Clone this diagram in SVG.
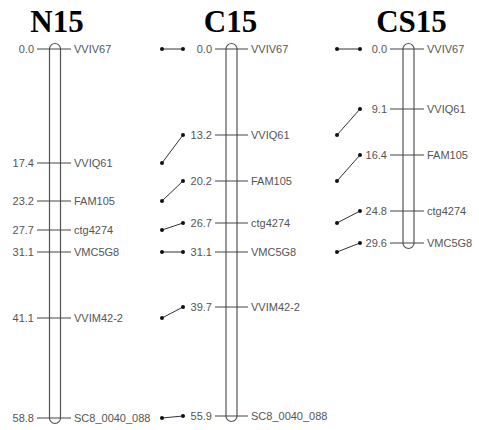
<svg xmlns="http://www.w3.org/2000/svg" width="479" height="430" viewBox="0 0 479 430">
<style>
.title{font-family:"Liberation Serif",serif;font-weight:bold;font-size:31px;fill:#000;text-anchor:middle}
.pos{font-family:"Liberation Sans",Arial,sans-serif;font-size:11px;fill:#555;text-anchor:end}
.name{font-family:"Liberation Sans",Arial,sans-serif;font-size:11px;fill:#555}
.bar{fill:none;stroke:#555;stroke-width:1.2}
.tick{stroke:#444;stroke-width:1}
.conn{stroke:#333;stroke-width:1;fill:none}
.dot{fill:#111}
</style>
<rect width="479" height="430" fill="#fff"/>
<g id="N15">
<text class="title" x="57" y="32">N15</text>
<rect class="bar" x="49.5" y="43.5" width="11" height="380" rx="5.5"/>
<g class="tick">
<line x1="37" y1="49" x2="71" y2="49"/>
<line x1="37" y1="163" x2="71" y2="163"/>
<line x1="37" y1="201" x2="71" y2="201"/>
<line x1="37" y1="230" x2="71" y2="230"/>
<line x1="37" y1="252" x2="71" y2="252"/>
<line x1="37" y1="318" x2="71" y2="318"/>
<line x1="37" y1="418" x2="71" y2="418"/>
</g>
<text class="pos" x="34" y="53">0.0</text>
<text class="pos" x="34" y="167">17.4</text>
<text class="pos" x="34" y="205">23.2</text>
<text class="pos" x="34" y="234">27.7</text>
<text class="pos" x="34" y="256">31.1</text>
<text class="pos" x="34" y="322">41.1</text>
<text class="pos" x="34" y="422">58.8</text>
<text class="name" x="74" y="53">VVIV67</text>
<text class="name" x="74" y="167">VVIQ61</text>
<text class="name" x="74" y="205">FAM105</text>
<text class="name" x="74" y="234">ctg4274</text>
<text class="name" x="74" y="256">VMC5G8</text>
<text class="name" x="74" y="322">VVIM42-2</text>
<text class="name" x="74" y="422">SC8_0040_088</text>
</g>
<g id="C15">
<text class="title" x="230.5" y="32">C15</text>
<rect class="bar" x="226" y="43.5" width="11" height="378" rx="5.5"/>
<g class="tick">
<line x1="215" y1="49" x2="248" y2="49"/>
<line x1="215" y1="135" x2="248" y2="135"/>
<line x1="215" y1="181" x2="248" y2="181"/>
<line x1="215" y1="223" x2="248" y2="223"/>
<line x1="215" y1="252" x2="248" y2="252"/>
<line x1="215" y1="307" x2="248" y2="307"/>
<line x1="215" y1="416" x2="248" y2="416"/>
</g>
<text class="pos" x="212" y="53">0.0</text>
<text class="pos" x="212" y="139">13.2</text>
<text class="pos" x="212" y="185">20.2</text>
<text class="pos" x="212" y="227">26.7</text>
<text class="pos" x="212" y="256">31.1</text>
<text class="pos" x="212" y="311">39.7</text>
<text class="pos" x="212" y="420">55.9</text>
<text class="name" x="251" y="53">VVIV67</text>
<text class="name" x="251" y="139">VVIQ61</text>
<text class="name" x="251" y="185">FAM105</text>
<text class="name" x="251" y="227">ctg4274</text>
<text class="name" x="251" y="256">VMC5G8</text>
<text class="name" x="251" y="311">VVIM42-2</text>
<text class="name" x="251" y="420">SC8_0040_088</text>
</g>
<g id="CS15">
<text class="title" x="411.5" y="32">CS15</text>
<rect class="bar" x="403" y="43.5" width="11" height="205" rx="5.5"/>
<g class="tick">
<line x1="390" y1="49" x2="424" y2="49"/>
<line x1="390" y1="109" x2="424" y2="109"/>
<line x1="390" y1="155" x2="424" y2="155"/>
<line x1="390" y1="211" x2="424" y2="211"/>
<line x1="390" y1="243" x2="424" y2="243"/>
</g>
<text class="pos" x="387" y="53">0.0</text>
<text class="pos" x="387" y="113">9.1</text>
<text class="pos" x="387" y="159">16.4</text>
<text class="pos" x="387" y="215">24.8</text>
<text class="pos" x="387" y="247">29.6</text>
<text class="name" x="427" y="53">VVIV67</text>
<text class="name" x="427" y="113">VVIQ61</text>
<text class="name" x="427" y="159">FAM105</text>
<text class="name" x="427" y="215">ctg4274</text>
<text class="name" x="427" y="247">VMC5G8</text>
</g>
<g id="connectors">
<g class="conn">
<line x1="162" y1="49" x2="183" y2="49"/>
<line x1="162" y1="163" x2="183" y2="135"/>
<line x1="162" y1="201" x2="183" y2="181"/>
<line x1="162" y1="230" x2="183" y2="223"/>
<line x1="162" y1="252" x2="183" y2="252"/>
<line x1="162" y1="318" x2="183" y2="307"/>
<line x1="162" y1="418" x2="183" y2="416"/>
<line x1="337" y1="49" x2="360" y2="49"/>
<line x1="337" y1="135" x2="360" y2="109"/>
<line x1="337" y1="181" x2="360" y2="155"/>
<line x1="337" y1="223" x2="360" y2="211"/>
<line x1="337" y1="252" x2="360" y2="243"/>
</g>
<g class="dot">
<circle cx="162" cy="49" r="2"/><circle cx="183" cy="49" r="2"/>
<circle cx="162" cy="163" r="2"/><circle cx="183" cy="135" r="2"/>
<circle cx="162" cy="201" r="2"/><circle cx="183" cy="181" r="2"/>
<circle cx="162" cy="230" r="2"/><circle cx="183" cy="223" r="2"/>
<circle cx="162" cy="252" r="2"/><circle cx="183" cy="252" r="2"/>
<circle cx="162" cy="318" r="2"/><circle cx="183" cy="307" r="2"/>
<circle cx="162" cy="418" r="2"/><circle cx="183" cy="416" r="2"/>
<circle cx="337" cy="49" r="2"/><circle cx="360" cy="49" r="2"/>
<circle cx="337" cy="135" r="2"/><circle cx="360" cy="109" r="2"/>
<circle cx="337" cy="181" r="2"/><circle cx="360" cy="155" r="2"/>
<circle cx="337" cy="223" r="2"/><circle cx="360" cy="211" r="2"/>
<circle cx="337" cy="252" r="2"/><circle cx="360" cy="243" r="2"/>
</g>
</g>
</svg>
